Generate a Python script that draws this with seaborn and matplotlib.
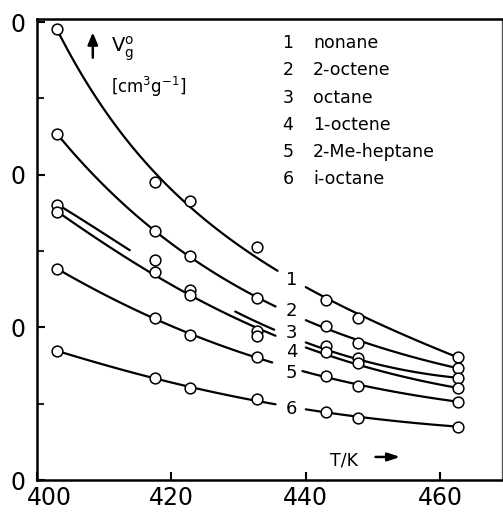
import numpy as np
import pandas as pd
import seaborn as sns
import matplotlib.pyplot as plt
from matplotlib.transforms import ScaledTranslation

# ==============================
# DATA
# ==============================
temps = [403, 417.5, 422.7, 432.8, 443, 447.8, 462.7]
nonane = [295.5, 195.4, 183, 152.8, 117.6, 106, 80.5]
octene_2 = [226.7, 162.8, 146.9, 119.1, 101.2, 90, 73.2]
octane = [180.3, 144.3, 124.6, 97.7, 87.9, 80.2, 66.7]
octene_1 = [175.7, 136.4, 121.3, 94.4, 84.1, 76.5, 60.1]
me_heptane = [138.4, 106, 95, 80.7, 68.2, 61.6, 51.3]
i_octane = [84.6, 66.7, 60.3, 52.9, 44.4, 40.9, 35]

names = ["nonane", "2-octene", "octane", "1-octene", "2-Me-heptane", "i-octane"]
series = [nonane, octene_2, octane, octene_1, me_heptane, i_octane]

# pieces of each fitted curve that are actually drawn (gaps for the labels)
pieces = [
    [(403, 435.8), (440, 462.7)],
    [(403, 435.5), (440, 462.7)],
    [(403, 413.8), (429.5, 435.3), (440, 462.7)],
    [(403, 435.5), (440, 462.7)],
    [(403, 435.0), (439.5, 462.7)],
    [(403, 435.5), (440, 462.7)],
]
label_y = [131, 110.4, 96.2, 84.1, 70, 46.4]
fit_w = [2.5, 1.4, 1.2, 1, 1, 1, 1.5]

# ==============================
# STYLE
# ==============================
sns.set_theme(style="ticks")
plt.rcParams['font.family'] = ['DejaVu Sans']
plt.rcParams['mathtext.fontset'] = 'dejavusans'
plt.rcParams['text.color'] = 'black'

fig = plt.figure(figsize=(5.03, 5.17), dpi=100)
ax = fig.add_axes([37 / 503, 1 - 480 / 517, 465 / 503, 461 / 517])

rows = []
for name, vals in zip(names, series):
    for t, v in zip(temps, vals):
        rows.append({"T": t, "Vg": v, "name": name})
df = pd.DataFrame(rows)

# smooth curves: cubic in ln(Vg)
for k, (name, vals) in enumerate(zip(names, series)):
    coef = np.polyfit(temps, np.log(vals), 3, w=fit_w)
    for a, b in pieces[k]:
        tt = np.linspace(a, b, 80)
        seg = pd.DataFrame({"T": tt, "Vg": np.exp(np.polyval(coef, tt))})
        sns.lineplot(data=seg, x="T", y="Vg", ax=ax, color="black",
                     linewidth=1.6, sort=False)

sns.scatterplot(data=df, x="T", y="Vg", ax=ax, marker="o", s=60,
                facecolor="white", edgecolor="black", linewidth=1.1,
                zorder=5, legend=False)

# curve numbers
for k in range(6):
    ax.text(437.9, label_y[k], str(k + 1), fontsize=13, ha="center",
            va="center", color="black")

# key
for k, name in enumerate(names):
    yy = 1 - (43 + k * 27.3 - 19) / 461
    ax.text((288 - 37) / 465, yy, str(k + 1), transform=ax.transAxes,
            fontsize=12.5, ha="center", va="center", color="black")
    ax.text((313 - 37) / 465, yy, name, transform=ax.transAxes,
            fontsize=12.5, ha="left", va="center", color="black")

# axis label in the corner
ax.annotate("", xy=(0.12, 0.977), xytext=(0.12, 0.91),
            xycoords="axes fraction",
            arrowprops=dict(arrowstyle="-|>,head_width=0.25,head_length=0.6",
                            color="black", lw=1.8))
ax.text(0.16, 0.935, r"$\mathrm{V}_\mathrm{g}^\mathrm{o}$",
        transform=ax.transAxes, fontsize=14, ha="left", va="center",
        color="black")
ax.text(0.24, 0.853, r"[cm$^3$g$^{-1}$]", transform=ax.transAxes,
        fontsize=12, ha="center", va="center", color="black")

ax.text(0.661, 0.043, "T/K", transform=ax.transAxes, fontsize=12.5,
        ha="center", va="center", color="black")
ax.annotate("", xy=(0.787, 0.05), xytext=(0.722, 0.05),
            xycoords="axes fraction",
            arrowprops=dict(arrowstyle="-|>,head_width=0.2,head_length=0.6",
                            color="black", lw=1.8))

# axes
ax.set_xlim(400, 469.2)
ax.set_ylim(0, 302)
ax.set_xticks([400, 420, 440, 460])
ax.set_yticks([0, 100, 200, 300])
ax.set_yticklabels(["0", "0", "0", "0"])
ax.set_yticks([50, 150, 250], minor=True)
ax.tick_params(axis="both", which="major", direction="in", length=6,
               width=1.5, labelsize=17, colors="black")
ax.tick_params(axis="y", which="major", pad=8)
ax.tick_params(axis="x", which="major", pad=4)
ax.tick_params(axis="y", which="minor", direction="in", length=5, width=1.5)
ax.set_xlabel("")
ax.set_ylabel("")

# first x label sits a little right of its tick, as in the original
first = ax.get_xticklabels()[0]
first.set_transform(first.get_transform() +
                    ScaledTranslation(12 / 100, 0, fig.dpi_scale_trans))

for side in ["left", "bottom", "top"]:
    ax.spines[side].set_linewidth(1.8)
    ax.spines[side].set_color("black")
ax.spines["right"].set_linewidth(1.0)
ax.spines["right"].set_color("#555555")

fig.savefig("out.png", dpi=100, facecolor="white")
